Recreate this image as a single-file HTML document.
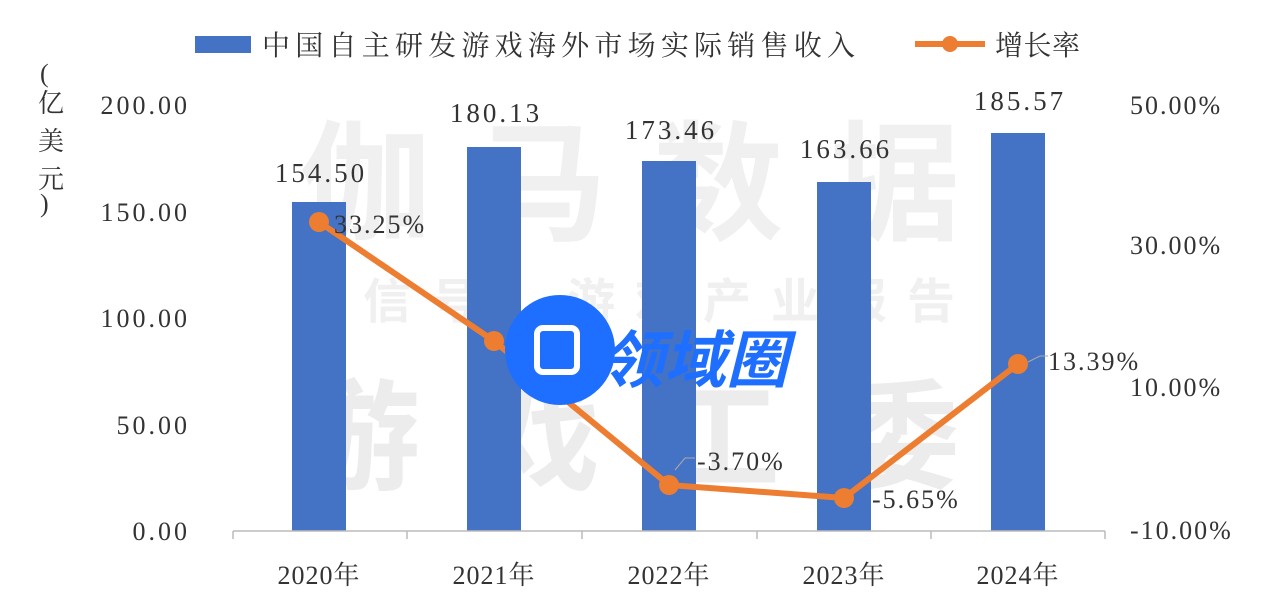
<!DOCTYPE html>
<html><head><meta charset="utf-8"><style>
body{margin:0;background:#fff;}
svg{display:block;}
text{font-family:"Liberation Serif","Noto Serif CJK SC",serif;fill:#333;}
</style></head><body>
<svg width="1268" height="613" viewBox="0 0 1268 613" xmlns="http://www.w3.org/2000/svg">
<rect width="1268" height="613" fill="#fff"/>
<g font-weight="bold">
<text x="300" y="230" font-size="130" style="fill:#f0f0f0;font-family:'Noto Sans CJK SC',sans-serif" textLength="660">伽马数据</text>
<text x="295" y="318" font-size="48" style="fill:#f0f0f0;font-family:'Noto Sans CJK SC',sans-serif" textLength="660">微信号：游戏产业报告</text>
<text x="300" y="480" font-size="120" style="fill:#ececec;font-family:'Noto Sans CJK SC',sans-serif" textLength="660">游戏工委</text>
</g>
<rect x="195" y="36" width="56" height="17" fill="#4472c4"/>
<text x="262" y="55" font-size="28" textLength="593">中国自主研发游戏海外市场实际销售收入</text>
<line x1="915" y1="44" x2="985" y2="44" stroke="#ed7d31" stroke-width="6"/>
<circle cx="950" cy="44" r="8" fill="#ed7d31"/>
<text x="995" y="55" font-size="28" textLength="85">增长率</text>
<g font-size="26">
<text x="40" y="82">(</text>
<text x="38" y="112">亿</text>
<text x="38" y="150">美</text>
<text x="38" y="188">元</text>
<text x="40" y="212">)</text>
</g>
<g font-size="26" text-anchor="end" letter-spacing="3">
<text x="190" y="114">200.00</text>
<text x="190" y="221">150.00</text>
<text x="190" y="327">100.00</text>
<text x="190" y="434">50.00</text>
<text x="190" y="540">0.00</text>
</g>
<g font-size="26" letter-spacing="2">
<text x="1130" y="114">50.00%</text>
<text x="1130" y="254">30.00%</text>
<text x="1130" y="396">10.00%</text>
<text x="1130" y="539">-10.00%</text>
</g>
<g fill="#4472c4">
<rect x="292" y="202" width="54" height="329"/>
<rect x="467" y="147" width="54" height="384"/>
<rect x="642" y="161" width="54" height="370"/>
<rect x="817" y="182" width="54" height="349"/>
<rect x="991" y="133" width="54" height="398"/>
</g>
<line x1="233" y1="531" x2="1105" y2="531" stroke="#bbb" stroke-width="1.5"/>
<g stroke="#bbb" stroke-width="1.5">
<line x1="233" y1="531" x2="233" y2="539"/><line x1="407" y1="531" x2="407" y2="539"/>
<line x1="582" y1="531" x2="582" y2="539"/><line x1="757" y1="531" x2="757" y2="539"/>
<line x1="931" y1="531" x2="931" y2="539"/><line x1="1105" y1="531" x2="1105" y2="539"/>
</g>
<g font-size="26" text-anchor="middle" letter-spacing="1">
<text x="319" y="584">2020年</text>
<text x="494" y="584">2021年</text>
<text x="669" y="584">2022年</text>
<text x="844" y="584">2023年</text>
<text x="1018" y="584">2024年</text>
</g>
<g font-size="27" text-anchor="middle" letter-spacing="3">
<text x="321" y="182">154.50</text>
<text x="496" y="122">180.13</text>
<text x="671" y="139">173.46</text>
<text x="846" y="158">163.66</text>
<text x="1020" y="110">185.57</text>
</g>
<polyline points="319,222 494,341 669,485 844,498 1018,364" fill="none" stroke="#ed7d31" stroke-width="6" stroke-linejoin="round"/>
<g fill="#ed7d31">
<circle cx="319" cy="222" r="10"/><circle cx="494" cy="341" r="10"/>
<circle cx="669" cy="485" r="10"/><circle cx="844" cy="498" r="10"/><circle cx="1018" cy="364" r="10"/>
</g>
<polyline points="675,470 685,458 695,458" fill="none" stroke="#aaa" stroke-width="1"/>
<polyline points="1028,362 1040,356 1048,356" fill="none" stroke="#aaa" stroke-width="1"/>
<g font-size="26" letter-spacing="2">
<text x="334" y="233">33.25%</text>
<text x="510" y="353">16.99%</text>
<text x="697" y="470">-3.70%</text>
<text x="872" y="508">-5.65%</text>
<text x="1048" y="370">13.39%</text>
</g>
<circle cx="560" cy="350" r="55" fill="#1e6fff"/>
<rect x="537" y="328" width="40" height="44" rx="6" fill="none" stroke="#fff" stroke-width="6"/>
<text x="602" y="382" font-size="62" font-weight="bold" style="fill:#1e6fff;font-family:'Noto Sans CJK SC',sans-serif;font-style:italic">领域圈</text>
</svg>
</body></html>
